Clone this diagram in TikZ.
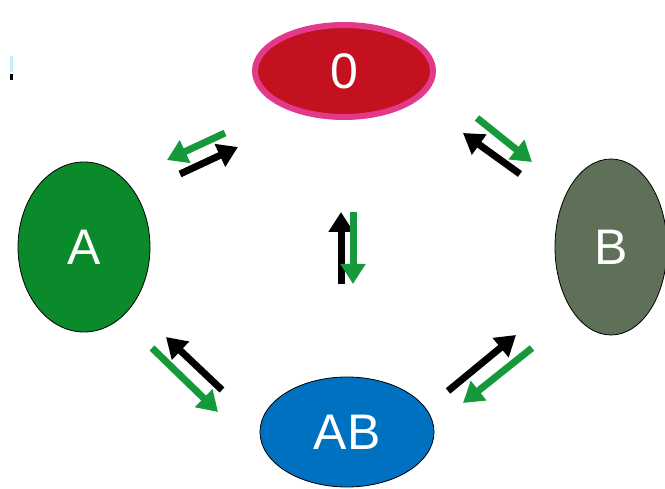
\documentclass[tikz,border=0pt]{standalone}
\usepackage{fontspec}
\setmainfont{Liberation Sans}
\usetikzlibrary{arrows.meta,shapes.geometric}
\definecolor{zerored}{HTML}{C3111F}
\definecolor{zeropink}{HTML}{E2398A}
\definecolor{agreen}{HTML}{0A8A2A}
\definecolor{bgray}{HTML}{5F7058}
\definecolor{abblue}{HTML}{0070C0}
\definecolor{arrgreen}{HTML}{16993A}
\definecolor{markcyan}{HTML}{BDF3F5}
\begin{document}
\begin{tikzpicture}[x=1pt,y=-1pt,
  state/.style={ellipse,inner sep=0pt,text=white,font=\fontsize{50}{50}\selectfont},
  flow/.style={line width=7pt,-{Triangle[length=20pt,width=24pt]}},
  fwd/.style={flow,draw=black},
  bwd/.style={flow,draw=arrgreen}]
\useasboundingbox (0,0) rectangle (665,489);
\fill[white] (0,0) rectangle (665,489);

% small mark at the left edge
\fill[markcyan] (10,56) rectangle (12.5,72);
\fill[black] (10,74) rectangle (12.5,80);

% states
\node[state,draw=zeropink,line width=6pt,fill=zerored,minimum width=178pt,minimum height=92pt] (s0) at (344,71) {0};
\node[state,draw=black,line width=0.8pt,fill=agreen,minimum width=132pt,minimum height=170pt] (sA) at (84,247) {A};
\node[state,draw=black,line width=0.8pt,fill=bgray,minimum width=112pt,minimum height=176pt] (sB) at (611,247) {B};
\node[state,draw=black,line width=0.8pt,fill=abblue,minimum width=174pt,minimum height=110pt] (sAB) at (347,432) {AB};

% arrow end points
\coordinate (tlg1) at (225,133); \coordinate (tlg2) at (167,160);
\coordinate (tlk1) at (180,174); \coordinate (tlk2) at (238,147);
\coordinate (trg1) at (477,118); \coordinate (trg2) at (532,162);
\coordinate (trk1) at (520,174); \coordinate (trk2) at (463,133);
\coordinate (mk1) at (341,284); \coordinate (mk2) at (341,212);
\coordinate (mg1) at (353,212); \coordinate (mg2) at (353,284);
\coordinate (blg1) at (152,348); \coordinate (blg2) at (218,412);
\coordinate (blk1) at (222,390); \coordinate (blk2) at (166,337);
\coordinate (brk1) at (448,391); \coordinate (brk2) at (516,335);
\coordinate (brg1) at (532,348); \coordinate (brg2) at (463,403);

% transitions
\draw[bwd] (tlg1) -- (tlg2);
\draw[fwd] (tlk1) -- (tlk2);
\draw[bwd] (trg1) -- (trg2);
\draw[fwd] (trk1) -- (trk2);
\draw[fwd] (mk1) -- (mk2);
\draw[bwd] (mg1) -- (mg2);
\draw[bwd] (blg1) -- (blg2);
\draw[fwd] (blk1) -- (blk2);
\draw[fwd] (brk1) -- (brk2);
\draw[bwd] (brg1) -- (brg2);
\end{tikzpicture}
\end{document}
